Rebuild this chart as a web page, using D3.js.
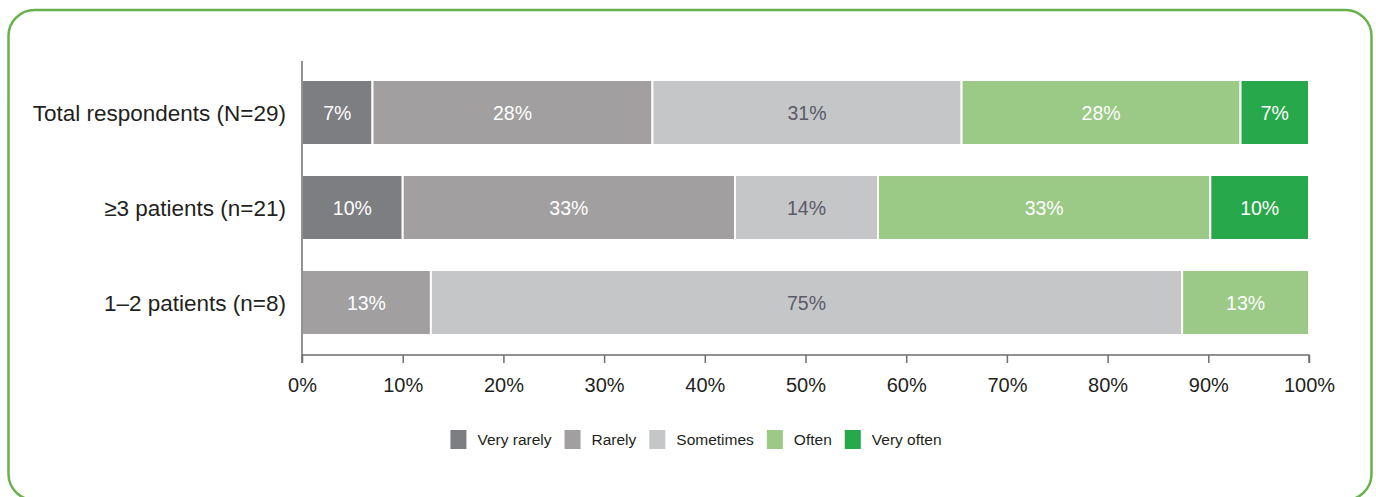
<!DOCTYPE html>
<html><head><meta charset="utf-8">
<script src="https://cdn.jsdelivr.net/npm/d3@7"></script>
<style>
html,body{margin:0;padding:0;background:#fff;}
svg{display:block;font-family:"Liberation Sans",Arial,sans-serif;}
</style></head>
<body>
<svg id="chart" width="1376" height="497"></svg>
<script>
const categories = ["Total respondents (N=29)", "\u22653 patients (n=21)", "1\u20132 patients (n=8)"];
const seriesNames = ["Very rarely", "Rarely", "Sometimes", "Often", "Very often"];
const veryRarely = [7.0, 10.0, 0];
const rarely = [27.8, 33.0, 12.8];
const sometimes = [30.7, 14.2, 74.6];
const often = [27.7, 33.0, 12.6];
const veryOften = [6.8, 9.8, 0];
const labelsVeryRarely = ["7%", "10%", ""];
const labelsRarely = ["28%", "33%", "13%"];
const labelsSometimes = ["31%", "14%", "75%"];
const labelsOften = ["28%", "33%", "13%"];
const labelsVeryOften = ["7%", "10%", ""];
const tickValues = [0, 10, 20, 30, 40, 50, 60, 70, 80, 90, 100];
const colors = ["#7d7e82", "#a19fa0", "#c5c6c8", "#9bc986", "#27a84a"];
const labelColors = ["#ffffff", "#ffffff", "#5a5a6a", "#ffffff", "#ffffff"];

const seriesVals = [veryRarely, rarely, sometimes, often, veryOften];
const seriesLabels = [labelsVeryRarely, labelsRarely, labelsSometimes, labelsOften, labelsVeryOften];

const svg = d3.select("#chart");

// frame
svg.append("rect").attr("x", 8.5).attr("y", 10).attr("width", 1363).attr("height", 490)
  .attr("rx", 26).attr("ry", 26).attr("fill", "none").attr("stroke", "#6ab04c").attr("stroke-width", 2.5);

const x = d3.scaleLinear().domain([0, 100]).range([302, 1309]);
const y = d3.scaleBand().domain(categories).range([50, 365]).paddingInner(0.316).paddingOuter(0.316);
const axisY = 355;

// stacked rows
const rows = categories.map((c, i) => {
  let acc = 0;
  return seriesVals.map((s, k) => {
    const seg = {cat: c, k: k, x0: acc, x1: acc + s[i], label: seriesLabels[k][i]};
    acc += s[i];
    return seg;
  });
}).flat().filter(d => d.x1 > d.x0);

const g = svg.append("g");
g.selectAll("rect.seg").data(rows).join("rect").attr("class", "seg")
  .attr("x", d => x(d.x0))
  .attr("width", d => x(d.x1) - x(d.x0))
  .attr("y", d => y(d.cat))
  .attr("height", y.bandwidth())
  .attr("fill", d => colors[d.k])
  .attr("stroke", "#ffffff").attr("stroke-width", 2);

g.selectAll("text.lab").data(rows).join("text").attr("class", "lab")
  .attr("x", d => (x(d.x0) + x(d.x1)) / 2)
  .attr("y", d => y(d.cat) + y.bandwidth() / 2)
  .attr("dy", "0.36em")
  .attr("text-anchor", "middle")
  .attr("font-size", 19.5)
  .attr("fill", d => labelColors[d.k])
  .text(d => d.label);

// y axis line
svg.append("line").attr("x1", x(0)).attr("x2", x(0)).attr("y1", 61).attr("y2", axisY)
  .attr("stroke", "#6d6e71").attr("stroke-width", 1.5);

// category labels
svg.selectAll("text.cat").data(categories).join("text").attr("class", "cat")
  .attr("x", 286).attr("y", d => y(d) + y.bandwidth() / 2).attr("dy", "0.36em")
  .attr("text-anchor", "end").attr("font-size", 22.5).attr("fill", "#231f20")
  .text(d => d);

// x axis
const xAxis = d3.axisBottom(x).tickValues(tickValues).tickSize(8).tickPadding(15)
  .tickFormat(d => d + "%");
const ax = svg.append("g").attr("transform", `translate(0,${axisY})`).call(xAxis);
ax.select(".domain").attr("stroke", "#6d6e71").attr("stroke-width", 1.5).attr("d", `M${x(0)},8V0H${x(100)}V8`);
ax.selectAll(".tick line").attr("stroke", "#6d6e71").attr("stroke-width", 1.5);
ax.selectAll(".tick text").attr("font-size", 20).attr("fill", "#231f20")
  .attr("font-family", "Liberation Sans, Arial, sans-serif");

// legend
const lg = svg.append("g");
const items = lg.selectAll("g.item").data(seriesNames).join("g").attr("class", "item");
items.append("rect").attr("width", 16).attr("height", 19).attr("y", -9.5).attr("fill", (d, i) => colors[i]);
items.append("text").attr("x", 27).attr("dy", "0.36em").attr("font-size", 15.5).attr("fill", "#231f20").text(d => d);
let pos = 0;
const offs = [];
items.each(function (d, i) {
  offs.push(pos);
  const w = d3.select(this).select("text").node().getComputedTextLength();
  pos += 27 + w + 13;
});
const total = pos - 13;
const start = 696 - total / 2;
items.attr("transform", (d, i) => `translate(${start + offs[i]},439.5)`);
</script>
</body></html>
